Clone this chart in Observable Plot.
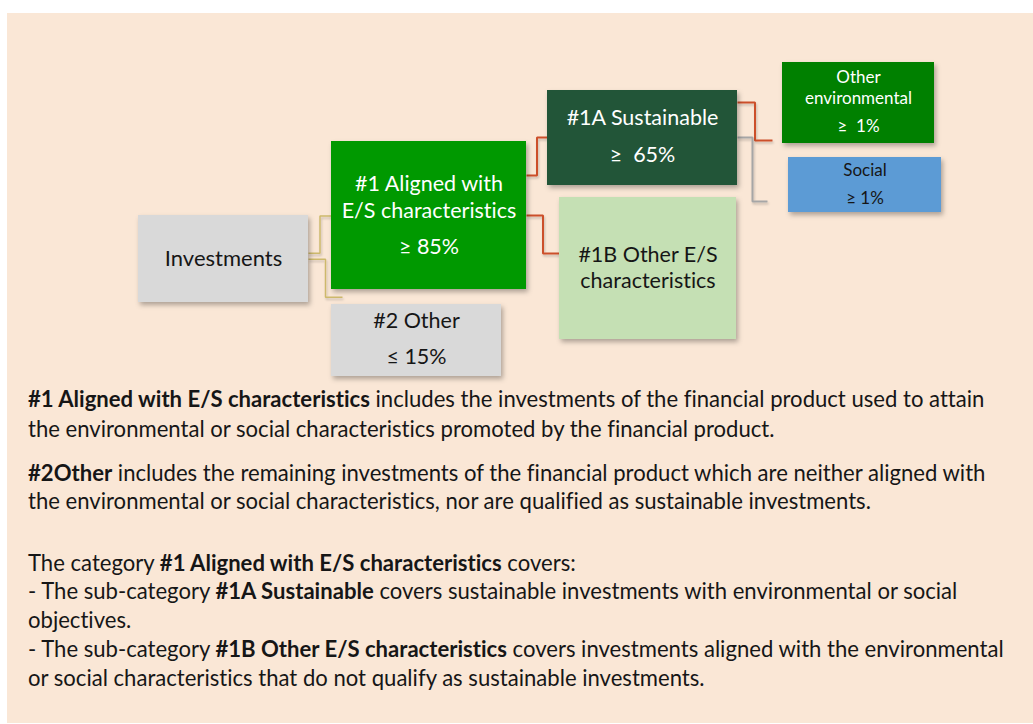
<!DOCTYPE html>
<html><head><meta charset="utf-8">
<script src="https://cdn.jsdelivr.net/npm/d3@7"></script>
<script src="https://cdn.jsdelivr.net/npm/@observablehq/plot@0.6"></script>
<style>
body{margin:0;background:#fff;font-family:Lato,"Open Sans",sans-serif;font-variant-ligatures:none;}
#panel{position:absolute;left:7px;top:13px;width:1026px;height:710px;background:#fae7d6;overflow:hidden}
#chart{position:absolute;left:0;top:0}
#chart svg text{font-variant-ligatures:none;font-feature-settings:"liga" 0,"clig" 0,"dlig" 0}
.note{position:absolute;left:21px;white-space:nowrap;color:#161616;line-height:29px;font-size:19px;font-feature-settings:"liga" 0,"clig" 0,"dlig" 0}
.note b{font-weight:700}
</style></head><body>
<div id="panel"><div id="chart"></div><div id="notes"></div></div>
<script>
// ---- data ----
const nodes = ["inv", "a1", "o2", "s1a", "e1b", "env", "soc"];
const nodeLabels = [
  ["Investments"],
  ["#1 Aligned with", "E/S characteristics", "≥ 85%"],
  ["#2 Other", "≤ 15%"],
  ["#1A Sustainable", "≥  65%"],
  ["#1B Other E/S", "characteristics"],
  ["Other", "environmental", "≥  1%"],
  ["Social", "≥ 1%"]
];
const linkSources = ["inv", "inv", "a1", "a1", "s1a", "s1a"];
const linkTargets = ["a1", "o2", "s1a", "e1b", "env", "soc"];
const notes = [
  "<b>#1 Aligned with E/S characteristics</b> includes the investments of the financial product used to attain",
  "the environmental or social characteristics promoted by the financial product.",
  "<b>#2Other</b> includes the remaining investments of the financial product which are neither aligned with",
  "the environmental or social characteristics, nor are qualified as sustainable investments.",
  "The category <b>#1 Aligned with E/S characteristics</b> covers:",
  "- The sub-category <b>#1A Sustainable</b> covers sustainable investments with environmental or social",
  "objectives.",
  "- The sub-category <b>#1B Other E/S characteristics</b> covers investments aligned with the environmental",
  "or social characteristics that do not qualify as sustainable investments."
];

// ---- layout (positions & styles) ----
const layout = {
  inv: {x1:138, x2:308, y1:215, y2:302, fill:"#d9d9d9", color:"#161616", size:22, lines:[258]},
  a1:  {x1:331, x2:526, y1:141, y2:289, fill:"#009900", color:"#ffffff", size:21.5, lines:[184, 211, 247]},
  o2:  {x1:331, x2:501, y1:304, y2:376, fill:"#d9d9d9", color:"#161616", size:21.5, lines:[321, 357]},
  s1a: {x1:547, x2:737, y1:90,  y2:185, fill:"#245439", color:"#ffffff", size:21.5, lines:[118, 155]},
  e1b: {x1:559, x2:736, y1:197, y2:339, fill:"#c5e0b4", color:"#161616", size:21.5, lines:[255, 281]},
  env: {x1:782, x2:934, y1:62,  y2:143, fill:"#008000", color:"#ffffff", size:17, lines:[77, 98, 126]},
  soc: {x1:788, x2:941, y1:157, y2:212, fill:"#5b9bd5", color:"#161616", size:17, lines:[170, 198]}
};
const linkLayout = [
  {y1:252.7, y2:215.5, x2:331, stroke:"#cdb96c", w:1.5},
  {y1:258.7, y2:296.7, x2:342, stroke:"#cdb96c", w:1.5},
  {y1:175,   y2:137,   x2:547, stroke:"#cc4f2c", w:2},
  {y1:215,   y2:253,   x2:559, stroke:"#cc4f2c", w:2},
  {y1:102,   y2:140,   x2:772, stroke:"#cc4f2c", w:2},
  {y1:137,   y2:201,   x2:767, stroke:"#a6a6a6", w:2}
];
const noteCenters = [398, 428, 472, 500, 562, 590, 619, 648, 677];
const panelTop = 13;

// ---- build tables ----
const boxes = nodes.map(id => ({id, ...layout[id]}));
const texts = nodes.flatMap((id, i) => nodeLabels[i].map((t, j) => ({
  text: t, x: (layout[id].x1 + layout[id].x2) / 2, y: layout[id].lines[j],
  color: layout[id].color, size: layout[id].size
})));
const links = linkSources.map((s, i) => ({
  x1: layout[s].x2, y1: linkLayout[i].y1, x2: linkLayout[i].x2, y2: linkLayout[i].y2,
  stroke: linkLayout[i].stroke, w: linkLayout[i].w, target: linkTargets[i]
}));

const plot = Plot.plot({
  width: 1026, height: 372, margin: 0,
  x: {domain: [7, 1033], range: [0, 1026], axis: null},
  y: {domain: [13, 385], range: [0, 372], axis: null},
  color: {type: "identity"},
  style: {background: "transparent", fontFamily: "Lato, 'Open Sans', sans-serif"},
  marks: [
    Plot.link(links, {x1: "x1", y1: "y1", x2: "x2", y2: "y2", stroke: "stroke", strokeWidth: "w", curve: "step"}),
    Plot.rect(boxes, {x1: "x1", x2: "x2", y1: "y1", y2: "y2", fill: "fill"}),
    Plot.text(texts, {x: "x", y: "y", text: "text", fill: "color", fontSize: "size", textAnchor: "middle", lineAnchor: "middle"})
  ]
});
document.getElementById("chart").appendChild(plot);

// drop shadows
const svg = d3.select(plot);
const defs = svg.insert("defs", ":first-child");
const f = defs.append("filter").attr("id", "shadow").attr("x", "-20%").attr("y", "-20%").attr("width", "150%").attr("height", "160%");
f.append("feDropShadow").attr("dx", 2).attr("dy", 3).attr("stdDeviation", 2.5).attr("flood-color", "#000").attr("flood-opacity", 0.3);
const f2 = defs.append("filter").attr("id", "shadow2").attr("x", "-20%").attr("y", "-20%").attr("width", "150%").attr("height", "160%");
f2.append("feDropShadow").attr("dx", 1).attr("dy", 2).attr("stdDeviation", 1.2).attr("flood-color", "#000").attr("flood-opacity", 0.2);
svg.selectAll("g[aria-label=rect] rect").attr("filter", "url(#shadow)");
svg.selectAll("g[aria-label=link] path").attr("filter", "url(#shadow2)");

// notes
const notesDiv = document.getElementById("notes");
const els = notes.map((html, i) => {
  const d = document.createElement("div");
  d.className = "note";
  d.innerHTML = html;
  d.style.top = (noteCenters[i] - panelTop - 14.5) + "px";
  notesDiv.appendChild(d);
  return d;
});
const w0 = els[0].getBoundingClientRect().width;
const fs = 19 * 957 / w0;
els.forEach(d => d.style.fontSize = fs + "px");
</script>
</body></html>
